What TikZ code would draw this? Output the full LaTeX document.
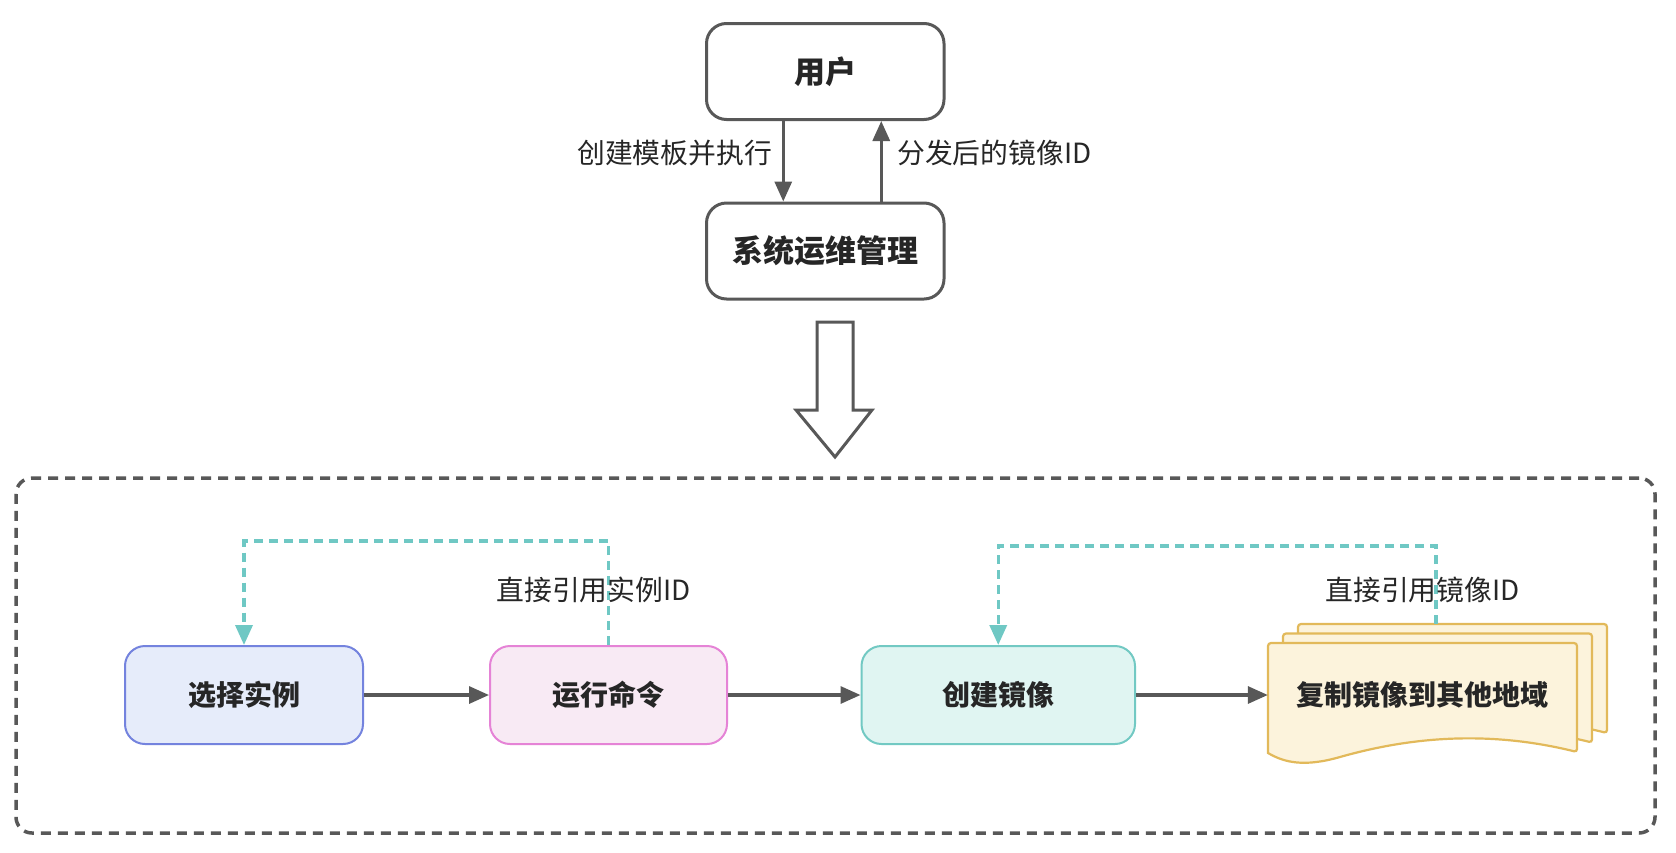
\documentclass[tikz,border=0pt]{standalone}
\usepackage{fontspec}
\setmainfont{Noto Sans CJK SC}
\usetikzlibrary{arrows.meta}
\definecolor{lg}{RGB}{88,88,88}
\definecolor{txt}{RGB}{38,38,38}
\definecolor{teal1}{RGB}{111,200,196}
\definecolor{bfill}{RGB}{230,236,250}
\definecolor{bline}{RGB}{116,131,222}
\definecolor{pfill}{RGB}{248,234,244}
\definecolor{pline}{RGB}{229,131,214}
\definecolor{tfill}{RGB}{224,245,242}
\definecolor{tline}{RGB}{114,201,195}
\definecolor{dfill}{RGB}{252,243,220}
\definecolor{dline}{RGB}{226,185,90}
\tikzset{
  topbox/.style={draw=lg, line width=3pt, rounded corners=20pt, fill=white,
    minimum width=237.5pt, minimum height=96pt, inner sep=0pt,
    font=\fontsize{31}{36}\selectfont\bfseries, text=txt},
  flowbox/.style={line width=2pt, rounded corners=20pt, minimum height=98pt, inner sep=0pt,
    font=\fontsize{28}{32}\selectfont\bfseries, text=txt},
  arr/.style={draw=lg, line width=3.2pt, -{Triangle[length=20pt,width=17pt]}},
  tarr/.style={draw=teal1, line width=3.5pt, dash pattern=on 9pt off 6pt, -{Triangle[length=20pt,width=17pt]}},
  lbl/.style={font=\fontsize{27.8}{32}\selectfont, text=txt, inner sep=0pt},
  frame/.style={draw=lg, line width=3.5pt, dash pattern=on 10pt off 7pt, rounded corners=16pt,
    minimum width=1639pt, minimum height=355pt, inner sep=0pt},
  page/.style={draw=dline, fill=dfill, line width=2.2pt},
}
\newcommand{\docpagepath}{%
  (1268,753) [rounded corners=3pt] -- (1268,643) -- (1577,643) -- (1577,752) [sharp corners]
  .. controls (1480,728) and (1400,740) .. (1340,757)
  .. controls (1305,767) and (1285,763) .. (1268,753) -- cycle}
\begin{document}
\begin{tikzpicture}[x=1pt,y=-1pt]
\useasboundingbox (0,0) rectangle (1676,852);
\fill[white] (0,0) rectangle (1676,852);

% top part
\node[topbox] (user) at (825.25,71.5) {用户};
\node[topbox] (sys) at (825.25,251) {系统运维管理};
\draw[arr] ([xshift=-42pt]user.south) -- ([xshift=-42pt]sys.north);
\draw[arr] ([xshift=56pt]sys.north) -- ([xshift=56pt]user.south);
\node[lbl, anchor=east] (l1) at (772,153) {创建模板并执行};
\node[lbl, anchor=west] (l2) at (897,153) {分发后的镜像ID};

% block arrow
\draw[draw=lg, line width=3pt, fill=white, line join=miter]
  (817,322) -- (853,322) -- (853,410) -- (872,410) -- (835,457) -- (796,410) -- (817,410) -- cycle;

% container
\node[frame] (fr) at (835.5,655.5) {};

% documents (back to front)
\begin{scope}[shift={(30,-19)}]
  \draw[page] \docpagepath;
\end{scope}
\begin{scope}[shift={(15,-9.5)}]
  \draw[page] \docpagepath;
\end{scope}
\draw[page] \docpagepath;
\node[inner sep=0pt, minimum width=309pt, minimum height=100pt,
  font=\fontsize{28}{32}\selectfont\bfseries, text=txt] (doc) at (1422.5,695) {复制镜像到其他地域};
\coordinate (t2) at (1436,624);

% flow boxes
\node[flowbox, draw=bline, fill=bfill, minimum width=238pt] (b1) at (244,695) {选择实例};
\node[flowbox, draw=pline, fill=pfill, minimum width=237pt] (b2) at (608.5,695) {运行命令};
\node[flowbox, draw=tline, fill=tfill, minimum width=273.5pt] (b3) at (998.25,695) {创建镜像};

\draw[arr] (b1.east) -- (b2.west);
\draw[arr] (b2.east) -- (b3.west);
\draw[arr] (b3.east) -- (doc.west);

\draw[tarr] (b2.north) -- ++(0,-104) -| (b1.north);
\draw[tarr] (t2) -- (1436,546) -| (b3.north);

\node[lbl] (l3) at (593.5,590) {直接引用实例ID};
\node[lbl] (l4) at (1422.5,590) {直接引用镜像ID};
\end{tikzpicture}
\end{document}
